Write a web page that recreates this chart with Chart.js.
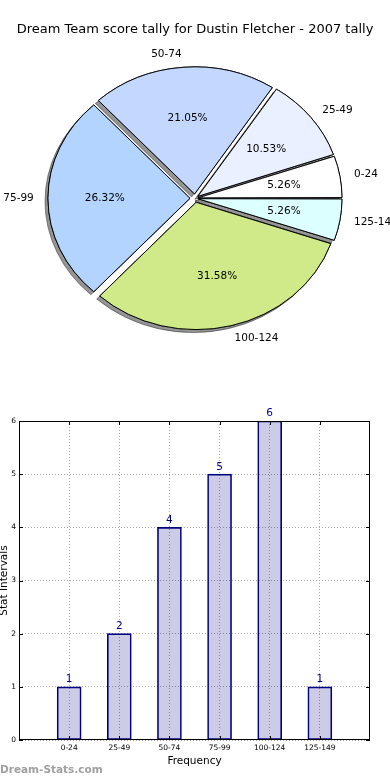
<!DOCTYPE html>
<html>
<head>
<meta charset="utf-8">
<script src="https://cdn.jsdelivr.net/npm/chart.js@4.4.0/dist/chart.umd.min.js"></script>
<style>
  body { margin: 0; background: #fff; }
  #wrap { position: relative; width: 390px; height: 780px; }
  canvas { position: absolute; left: 0; }
</style>
</head>
<body>
<div id="wrap">
  <canvas id="pieChart" width="390" height="390" style="top:0"></canvas>
  <canvas id="barChart" width="390" height="390" style="top:390px"></canvas>
</div>
<script>
var categories = ['0-24', '25-49', '50-74', '75-99', '100-124', '125-149'];
var counts = [1, 2, 4, 5, 6, 1];
var yTicks = [0, 1, 2, 3, 4, 5, 6];
var pieColors = ['#ffffff', '#eaf0ff', '#c4d8ff', '#b3d4ff', '#d0ea8a', '#dcffff'];
var chartTitle = 'Dream Team score tally for Dustin Fletcher - 2007 tally';

var FONT = "'DejaVu Sans', sans-serif";
var total = counts.reduce(function(a, b) { return a + b; }, 0);
var explode = 5;     // px each wedge is pushed out
var squash = 0.894;  // pie is a bit wider than tall

// chart.js draws clockwise, the original goes counter clockwise from 3 o'clock
var pieOrder = categories.map(function(c, i) { return i; }).reverse();

var pieSquash = {
  id: 'pieSquash',
  beforeDatasetsDraw: function(chart) {
    var arcs = chart.getDatasetMeta(0).data;
    var c = chart.ctx;
    c.save();
    c.translate(arcs[0].x, arcs[0].y);
    c.scale(1, squash);
    c.translate(-arcs[0].x, -arcs[0].y);
    // shadow pass first, the normal draw then covers it
    c.save();
    c.shadowColor = 'rgba(0,0,0,0.42)';
    c.shadowOffsetX = -3;
    c.shadowOffsetY = 3;
    c.shadowBlur = 0;
    arcs.forEach(function(arc) { arc.draw(c); });
    c.restore();
  },
  afterDatasetsDraw: function(chart) {
    chart.ctx.restore();
  }
};

var pieLabels = {
  id: 'pieLabels',
  afterDraw: function(chart) {
    var c = chart.ctx;
    c.save();
    c.font = '10.5px ' + FONT;
    c.fillStyle = '#000';
    c.textBaseline = 'middle';
    chart.getDatasetMeta(0).data.forEach(function(arc, j) {
      var i = pieOrder[j];
      var mid = (arc.startAngle + arc.endAngle) / 2;
      var r = arc.outerRadius;
      var cs = Math.cos(mid), sn = Math.sin(mid);
      var d1 = r * 1.1 + explode;
      c.textAlign = cs > 0 ? 'left' : 'right';
      c.fillText(categories[i], arc.x + d1 * cs, arc.y + d1 * sn * squash);
      var d2 = r * 0.6 + explode;
      c.textAlign = 'center';
      c.fillText((counts[i] / total * 100).toFixed(2) + '%', arc.x + d2 * cs, arc.y + d2 * sn * squash);
    });
    c.restore();
  }
};

new Chart(document.getElementById('pieChart').getContext('2d'), {
  type: 'pie',
  data: {
    labels: pieOrder.map(function(i) { return categories[i]; }),
    datasets: [{
      data: pieOrder.map(function(i) { return counts[i]; }),
      backgroundColor: pieOrder.map(function(i) { return pieColors[i]; }),
      borderColor: '#000',
      borderWidth: 1,
      clip: false,
      offset: function(ctx) {
        var circ = ctx.raw / total * 2 * Math.PI;
        var fix = 1 - Math.sin(Math.min(Math.PI, circ));
        return 4 * explode / (1 + fix);
      }
    }]
  },
  options: {
    responsive: false,
    animation: false,
    rotation: 90,
    radius: 142,
    layout: { padding: { left: 1, right: 1, top: 0, bottom: 31 } },
    plugins: {
      legend: { display: false },
      tooltip: { enabled: false },
      title: {
        display: true,
        text: chartTitle,
        color: '#000',
        font: { family: FONT, size: 13, weight: 'normal' },
        padding: { top: 22, bottom: 0 }
      }
    }
  },
  plugins: [pieSquash, pieLabels]
});

var barExtras = {
  id: 'barExtras',
  afterDatasetsDraw: function(chart) {
    var c = chart.ctx;
    c.save();
    c.font = '10.5px ' + FONT;
    c.fillStyle = '#000080';
    c.textAlign = 'center';
    c.textBaseline = 'bottom';
    chart.getDatasetMeta(0).data.forEach(function(bar, i) {
      c.fillText(counts[i], bar.x, bar.y - 2);
    });
    c.restore();
  },
  afterDraw: function(chart) {
    var c = chart.ctx;
    var a = chart.chartArea;
    var xs = chart.scales.x, ys = chart.scales.y;
    c.save();
    c.strokeStyle = '#000';
    c.lineWidth = 1;
    c.strokeRect(Math.round(a.left) + 0.5, Math.round(a.top) + 0.5,
      Math.round(a.right - a.left) - 1, Math.round(a.bottom - a.top) - 1);
    // small inward ticks like the original
    c.beginPath();
    yTicks.forEach(function(v) {
      var y = Math.round(ys.getPixelForValue(v)) + 0.5;
      c.moveTo(a.left, y); c.lineTo(a.left + 4, y);
      c.moveTo(a.right, y); c.lineTo(a.right - 4, y);
    });
    categories.forEach(function(cat, i) {
      var x = Math.round(xs.getPixelForValue(i)) + 0.5;
      c.moveTo(x, a.bottom); c.lineTo(x, a.bottom - 4);
      c.moveTo(x, a.top); c.lineTo(x, a.top + 4);
    });
    c.stroke();
    c.font = 'bold 10.5px ' + FONT;
    c.fillStyle = '#a0a0a0';
    c.textAlign = 'left';
    c.textBaseline = 'middle';
    c.fillText('Dream-Stats.com', 0, 380);
    c.restore();
  }
};

new Chart(document.getElementById('barChart').getContext('2d'), {
  type: 'bar',
  data: {
    datasets: [{
      data: categories.map(function(cat, i) { return { x: i, y: counts[i] }; }),
      backgroundColor: 'rgba(0,0,128,0.2)',
      borderColor: '#000080',
      borderWidth: 1,
      borderSkipped: false,
      barThickness: 24
    }]
  },
  options: {
    responsive: false,
    animation: false,
    layout: { padding: { left: 0, right: 20, top: 31, bottom: 12 } },
    plugins: { legend: { display: false }, tooltip: { enabled: false } },
    scales: {
      x: {
        type: 'linear',
        min: -1,
        max: 6,
        offset: false,
        afterBuildTicks: function(scale) {
          scale.ticks = categories.map(function(cat, i) { return { value: i }; });
        },
        afterFit: function(scale) { scale.height = 28; },
        ticks: {
          callback: function(v) { return categories[v]; },
          color: '#000',
          font: { family: FONT, size: 7.5 },
          padding: 4,
          maxRotation: 0
        },
        grid: { offset: false, color: '#a8a8a8', lineWidth: 1, drawTicks: false },
        border: { display: false, dash: [1, 2] },
        title: {
          display: true,
          text: 'Frequency',
          color: '#000',
          font: { family: FONT, size: 10.5 },
          padding: { top: 0, bottom: 0 }
        }
      },
      y: {
        min: 0,
        max: 6,
        afterBuildTicks: function(scale) {
          scale.ticks = yTicks.map(function(v) { return { value: v }; });
        },
        afterFit: function(scale) { scale.width = 19; },
        ticks: {
          color: '#000',
          font: { family: FONT, size: 7.5 },
          padding: 3
        },
        grid: { color: '#a8a8a8', lineWidth: 1, drawTicks: false },
        border: { display: false, dash: [1, 2] },
        title: {
          display: true,
          text: 'Stat Intervals',
          color: '#000',
          font: { family: FONT, size: 10.5, lineHeight: 0.9 },
          padding: 0
        }
      }
    }
  },
  plugins: [barExtras]
});
</script>
</body>
</html>
